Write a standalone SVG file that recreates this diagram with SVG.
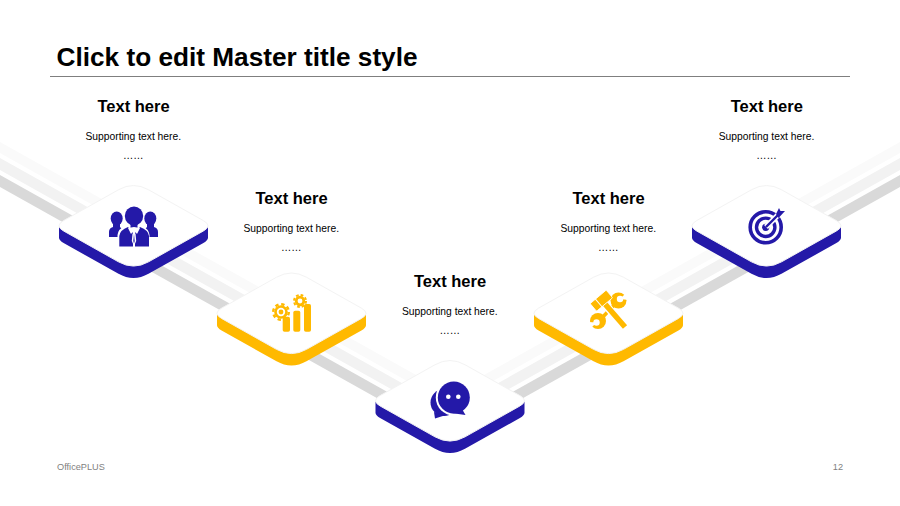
<svg xmlns="http://www.w3.org/2000/svg" width="900" height="506" viewBox="0 0 900 506">
<style>
text{font-family:"Liberation Sans",Arial,sans-serif;fill:#000;text-anchor:middle}
.title{font-size:26.2px;font-weight:bold;text-anchor:start}
.head{font-size:16.5px;font-weight:bold}
.sub{font-size:10.3px}
.foot{font-size:9.2px;fill:#7f7f7f}
.blue{fill:#2419a8}
.gold{fill:#ffb900}
.face{fill:#fff;stroke:#f3f3f3;stroke-width:1}
</style>
<defs>
<path id="side" d="M-74.500 0V11Q-74.500 13.590-69.900 16.180L-15 47.060Q0 55.500 15 47.060L69.900 16.180Q74.500 13.590 74.500 11V0Z"/>
<path id="top" d="M-15-36.060Q0-44.500 15-36.060L69.900-5.180Q79.100 0 69.900 5.180L15 36.060Q0 44.500-15 36.060L-69.900 5.180Q-79.100 0-69.900-5.180Z"/>
</defs>
<rect width="900" height="506" fill="#fff"/>
<g id="connectors">
<polygon fill="#fafafa" points="0,142 450,394 450,405 0,153"/>
<polygon fill="#f2f2f2" points="0,158 450,410 450,422 0,170"/>
<polygon fill="#d9d9d9" points="0,175 450,427 450,439 0,187"/>
<polygon fill="#fafafa" points="900,142 450,394 450,405 900,153"/>
<polygon fill="#f2f2f2" points="900,158 450,410 450,422 900,170"/>
<polygon fill="#d9d9d9" points="900,175 450,427 450,439 900,187"/>
</g>
<text class="title" x="56.600" y="66">Click to edit Master title style</text>
<rect x="50" y="76" width="800" height="1" fill="#7f7f7f"/>
<g id="node1">
<use href="#side" class="blue" x="133.500" y="226.800"/>
<use href="#top" class="face" x="133.500" y="225.800"/>
<g class="blue">
<ellipse cx="116.700" cy="218.500" rx="6" ry="7"/><ellipse cx="150.300" cy="218.500" rx="6" ry="7"/>
<path d="M113 223H120V227L123 230V237H109V232Q109 228 113 227ZM154 223H147V227L144 230V237H158V232Q158 228 154 227Z"/>
</g>
<path d="M117.500 246.500V235Q118 229 126 225H141Q149 229 149.500 235V246.500Z" fill="#fff"/>
<g class="blue">
<ellipse cx="134" cy="216" rx="9.200" ry="9.500"/>
<path d="M119.300 246.500V236Q120 230 128 227L133 233V246.500ZM149 246.500V236Q148.300 230 140 227L135 233V246.500Z"/>
<rect x="130.500" y="222" width="7" height="6.500"/>
</g>
<path d="M128 228L131 234L134 230.500L137 234L140 228L134 227Z" fill="#fff"/>
<path d="M132.500 233.500L131.800 241L134 246L136.200 241L135.500 233.500Z" fill="#fff"/>
<path d="M134 234L133.300 241L134 243.500L134.700 241Z" class="blue"/>
</g>
<g id="node2">
<use href="#side" class="gold" x="291.500" y="314.300"/>
<use href="#top" class="face" x="291.500" y="313.300"/>
<g class="gold">
<rect x="282.700" y="316.700" width="7.300" height="15" rx="1.800"/>
<rect x="293.300" y="310.700" width="7" height="21" rx="1.800"/>
<rect x="304" y="304" width="7" height="27.700" rx="1.800"/>
<circle cx="281" cy="312" r="6.800"/><circle cx="300" cy="301" r="5.200"/>
</g>
<circle cx="281" cy="312" r="7.800" fill="none" stroke="#ffb900" stroke-width="2.400" stroke-dasharray="3.400 2.720"/>
<circle cx="300" cy="301" r="6" fill="none" stroke="#ffb900" stroke-width="2" stroke-dasharray="2.700 2"/>
<circle cx="281" cy="312" r="4.200" fill="#fff"/><circle cx="281" cy="312" r="2.400" class="gold"/>
<circle cx="300" cy="301" r="2.400" fill="#fff"/>
</g>
<g id="node3">
<use href="#side" class="blue" x="450" y="401.800"/>
<use href="#top" class="face" x="450" y="400.800"/>
<g class="blue">
<circle cx="444" cy="402.500" r="13.500"/><polygon points="434,412 435,418.500 446,415"/>
</g>
<circle cx="453.800" cy="397.500" r="18" fill="#fff"/>
<path d="M452 412L458 416L465.500 415.500L463 408Z" fill="#fff"/>
<g class="blue">
<circle cx="453.800" cy="397.500" r="16"/><polygon points="462,409 465.500,415 451,413"/>
</g>
<circle cx="448.300" cy="396.700" r="2.300" fill="#fff"/><circle cx="458.300" cy="396.700" r="2.300" fill="#fff"/>
</g>
<g id="node4">
<use href="#side" class="gold" x="608.500" y="314.300"/>
<use href="#top" class="face" x="608.500" y="313.300"/>
<path d="M599 321L618 301" fill="none" stroke="#ffb900" stroke-width="3.600"/>
<g class="gold">
<circle cx="618.500" cy="300.500" r="8"/><circle cx="598" cy="321" r="8"/>
</g>
<path d="M620 299L628 291L628.500 300ZM596.500 322.500L588 331L588 322Z" fill="#fff"/>
<circle cx="620" cy="299" r="3.200" fill="#fff"/><circle cx="596.500" cy="322.500" r="3.200" fill="#fff"/>
<path d="M605 304L624 327" stroke="#fff" stroke-width="8" fill="none"/>
<path d="M605 304L625 327" stroke="#ffb900" stroke-width="5.500" fill="none"/>
<g transform="rotate(-40 601 301)">
<rect x="591" y="296" width="21" height="10" rx="1" fill="#ffb900" stroke="#fff" stroke-width="0.800"/>
<rect x="597.500" y="295" width="1" height="12" fill="#fff"/>
</g>
</g>
<g id="node5">
<use href="#side" class="blue" x="766.500" y="226.800"/>
<use href="#top" class="face" x="766.500" y="225.800"/>
<circle cx="765.700" cy="227.300" r="15.500" fill="none" stroke="#2419a8" stroke-width="3.600"/>
<circle cx="765.700" cy="227.300" r="9.200" fill="none" stroke="#2419a8" stroke-width="3.400"/>
<circle cx="765.700" cy="227.300" r="3.600" class="blue"/>
<path d="M766 227L779 214" stroke="#fff" stroke-width="5.500" fill="none"/>
<path d="M766 227L780 213" stroke="#2419a8" stroke-width="2.400" fill="none"/>
<polygon class="blue" points="776,214 779,208 780.500,211 785,211 778.500,218"/>
</g>
<text class="head" x="133.500" y="112">Text here</text>
<text class="sub" x="133.300" y="140">Supporting text here.</text>
<text class="sub" x="133.300" y="158.500">……</text>
<text class="head" x="291.500" y="204">Text here</text>
<text class="sub" x="291.300" y="232">Supporting text here.</text>
<text class="sub" x="291.300" y="250.500">……</text>
<text class="head" x="450" y="287">Text here</text>
<text class="sub" x="449.800" y="315">Supporting text here.</text>
<text class="sub" x="449.800" y="333.500">……</text>
<text class="head" x="608.500" y="204">Text here</text>
<text class="sub" x="608.300" y="232">Supporting text here.</text>
<text class="sub" x="608.300" y="250.500">……</text>
<text class="head" x="766.800" y="112">Text here</text>
<text class="sub" x="766.500" y="140">Supporting text here.</text>
<text class="sub" x="766.500" y="158.500">……</text>
<text class="foot" x="57" y="470" style="text-anchor:start">OfficePLUS</text>
<text class="foot" x="843" y="470" style="text-anchor:end">12</text>
</svg>
